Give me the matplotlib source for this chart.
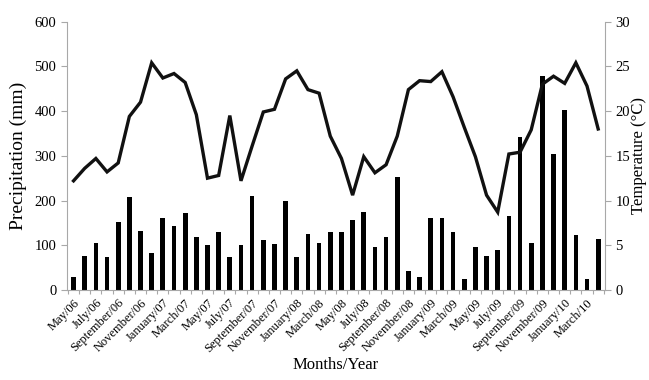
import matplotlib
matplotlib.use("Agg")
import matplotlib.pyplot as plt
import matplotlib.transforms as mtransforms
import numpy as np

months = ["May/06", "June/06", "July/06", "August/06", "September/06", "October/06", "November/06", "December/06",
          "January/07", "February/07", "March/07", "April/07", "May/07", "June/07", "July/07", "August/07",
          "September/07", "October/07", "November/07", "December/07", "January/08", "February/08", "March/08", "April/08",
          "May/08", "June/08", "July/08", "August/08", "September/08", "October/08", "November/08", "December/08",
          "January/09", "February/09", "March/09", "April/09", "May/09", "June/09", "July/09", "August/09",
          "September/09", "October/09", "November/09", "December/09", "January/10", "February/10", "March/10", "April/10"]

precipitation = [28, 75, 105, 73, 152, 208, 132, 82, 161, 143, 172, 119,
                 100, 130, 73, 100, 209, 111, 102, 199, 73, 125, 105, 130,
                 130, 156, 174, 97, 119, 253, 42, 28, 160, 162, 130, 24,
                 95, 75, 90, 165, 342, 106, 479, 304, 403, 122, 24, 115]

temperature = [12.2, 13.6, 14.7, 13.2, 14.2, 19.4, 21.0, 25.4, 23.7, 24.2, 23.2, 19.6,
               12.5, 12.8, 19.5, 12.2, 16.1, 19.9, 20.2, 23.6, 24.5, 22.4, 22.0, 17.2,
               14.7, 10.6, 14.9, 13.1, 14.0, 17.2, 22.4, 23.4, 23.3, 24.4, 21.6, 18.2,
               14.9, 10.6, 8.7, 15.2, 15.4, 17.9, 23.0, 23.9, 23.1, 25.4, 22.8, 18.0]

plt.rcParams['font.family'] = ['Liberation Serif', 'DejaVu Serif']

gray = '#a8a8a8'
fig = plt.figure(figsize=(6.49, 3.80), dpi=100)
ax = fig.add_axes([0.103, 0.237, 0.829, 0.706])
x = np.arange(len(months))
ax.bar(x, precipitation, width=0.42, color='black', zorder=2)
ax.set_xlim(-0.6, len(months) - 0.4)
ax.set_ylim(0, 600)
ax.set_yticks(range(0, 601, 100))
ax.set_ylabel("Precipitation (mm)", fontsize=14)
ax.yaxis.set_label_coords(-0.074, 0.5)
ax.set_xlabel("Months/Year", fontsize=12, labelpad=2)

ax.set_xticks(x[::2])
ax.set_xticklabels(months[::2], rotation=45, ha='right', rotation_mode='anchor', fontsize=9)
offset = mtransforms.ScaledTranslation(-3 / 100, 0, fig.dpi_scale_trans)
for lab in ax.get_xticklabels():
    lab.set_transform(lab.get_transform() + offset)
ax.set_xticks(np.arange(-0.5, len(months), 1), minor=True)
ax.tick_params(axis='x', which='major', length=0, pad=5)
ax.tick_params(axis='x', which='minor', length=3, color=gray, width=0.8)
ax.tick_params(axis='y', length=4, color=gray, width=0.8, labelsize=10.5)

for s in ['top', 'right']:
    ax.spines[s].set_visible(False)
ax.spines['left'].set_color(gray)
ax.spines['bottom'].set_color(gray)

ax2 = ax.twinx()
ax2.plot(x, temperature, color='#111111', linewidth=2.4, solid_joinstyle='miter', zorder=3)
ax2.set_ylim(0, 30)
ax2.set_yticks(range(0, 31, 5))
ax2.set_ylabel("Temperature (°C)", fontsize=12)
ax2.yaxis.set_label_coords(1.049, 0.5)
ax2.tick_params(axis='y', length=4, color=gray, width=0.8, labelsize=10.5)
for s in ['top', 'left', 'bottom']:
    ax2.spines[s].set_visible(False)
ax2.spines['right'].set_color(gray)

fig.savefig("out.png", dpi=100)
